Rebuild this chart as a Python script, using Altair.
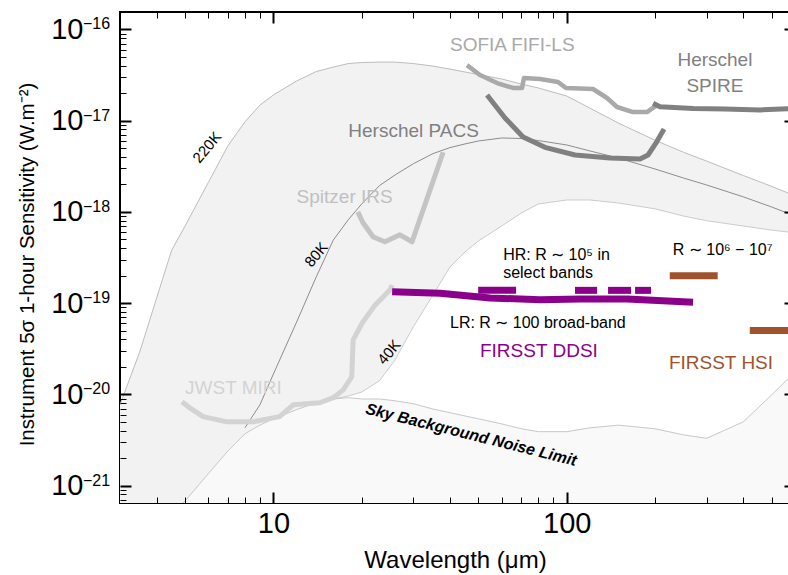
import altair as alt
import pandas as pd

# ---------------- data ----------------
# common wavelength grid (micron) for the background curves
lam_grid = [3, 3.5, 4, 4.5, 5, 6, 7, 8, 9, 10, 12, 14, 16, 18, 20, 23, 26, 30, 35, 40,
            45, 50, 60, 70, 80, 100, 120, 150, 200, 250, 300, 400, 500, 600]
t220 = [7.7e-21, 2.9e-20, 1.14e-19, 3.8e-19, 7.0e-19, 2.1e-18, 5.3e-18, 9.7e-18, 1.48e-17, 1.91e-17,
        2.72e-17, 3.45e-17, 3.86e-17, 4.22e-17, 4.33e-17, 4.38e-17, 4.38e-17, 4.22e-17, 3.96e-17, 3.67e-17,
        3.41e-17, 3.2e-17, 2.86e-17, 2.52e-17, 2.28e-17, 1.86e-17, 1.37e-17, 9.4e-18, 6.1e-18, 4.5e-18,
        3.6e-18, 2.5e-18, 1.9e-18, 1.5e-18]
t80 = [1.0e-22, 1.8e-22, 2.95e-22, 4.7e-22, 6.8e-22, 1.35e-21, 2.4e-21, 4.3e-21, 7.7e-21, 1.67e-20,
       6.2e-20, 1.94e-19, 4.9e-19, 8.2e-19, 1.22e-18, 1.94e-18, 2.54e-18, 3.37e-18, 4.35e-18, 5.06e-18,
       5.55e-18, 5.98e-18, 6.45e-18, 6.37e-18, 6.05e-18, 5.41e-18, 4.65e-18, 3.89e-18, 2.95e-18, 2.35e-18,
       1.97e-18, 1.46e-18, 1.13e-18, 9.0e-19]
t40 = [1.0e-22, 1.8e-22, 2.95e-22, 4.7e-22, 6.8e-22, 1.35e-21, 2.4e-21, 3.7e-21, 4.6e-21, 5.4e-21,
       6.8e-21, 8.1e-21, 8.9e-21, 9.6e-21, 1.06e-20, 1.41e-20, 2.39e-20, 5.5e-20, 1.23e-19, 2.49e-19,
       3.64e-19, 4.8e-19, 7.0e-19, 9.7e-19, 1.22e-18, 1.35e-18, 1.35e-18, 1.25e-18, 1.08e-18, 9.0e-19,
       8.0e-19, 7.0e-19, 6.3e-19, 5.9e-19]
sky = [1.0e-22, 1.8e-22, 2.95e-22, 4.7e-22, 6.8e-22, 1.35e-21, 2.4e-21, 3.7e-21, 4.6e-21, 5.4e-21,
       6.8e-21, 8.1e-21, 8.9e-21, 9.2e-21, 8.9e-21, 8.9e-21, 8.5e-21, 7.9e-21, 6.9e-21, 6.3e-21,
       5.8e-21, 5.4e-21, 4.75e-21, 4.2e-21, 3.9e-21, 3.9e-21, 4.3e-21, 4.6e-21, 4.2e-21, 3.6e-21,
       3.3e-21, 5.0e-21, 9.9e-21, 1.76e-20]

miri_lam = [4.88, 5.19, 5.76, 6.95, 8.53, 10.5, 11.7, 14.4, 16.0, 17.3, 18.5, 18.7, 20.1, 22.2, 25.0, 25.4]
miri_f = [8.3e-21, 7.1e-21, 5.7e-21, 5.0e-21, 5.0e-21, 5.7e-21, 7.7e-21, 8.1e-21, 9.2e-21, 1.12e-20,
          1.56e-20, 3.95e-20, 6.1e-20, 9.5e-20, 1.40e-19, 1.58e-19]
irs_lam = [19.4, 20.2, 21.9, 24.0, 27.0, 29.7, 37.9]
irs_f = [1.0e-18, 7.6e-19, 5.3e-19, 4.7e-19, 5.6e-19, 4.7e-19, 4.5e-18]
pacs_lam = [53.5, 61.6, 71.0, 84.3, 106.7, 140.5, 177.8, 189.3, 201.6, 214.6]
pacs_f = [1.91e-17, 1.07e-17, 6.6e-18, 5.1e-18, 4.2e-18, 3.9e-18, 3.8e-18, 4.2e-18, 5.7e-18, 8.1e-18]
fifi_lam = [45.7, 50.6, 57.9, 65.6, 70.4, 71.5, 81.1, 93.4, 99.4, 122.9, 137.2, 148.4, 168.2, 187.7, 203.0]
fifi_f = [4.06e-17, 3.16e-17, 2.58e-17, 2.28e-17, 2.28e-17, 2.93e-17, 2.86e-17, 2.65e-17, 2.28e-17,
          2.22e-17, 1.77e-17, 1.41e-17, 1.24e-17, 1.24e-17, 1.48e-17]
spire_lam = [197, 208, 270, 346, 456, 600]
spire_f = [1.55e-17, 1.42e-17, 1.36e-17, 1.34e-17, 1.31e-17, 1.36e-17]

ddsi_lr_lam = [25.4, 37.0, 54.8, 81.1, 111, 160.6, 269.5]
ddsi_lr_f = [1.33e-19, 1.28e-19, 1.14e-19, 1.09e-19, 1.11e-19, 1.11e-19, 1.02e-19]
ddsi_hr_start = [49.9, 106.7, 138.3, 171.0]
ddsi_hr_end = [67.2, 126.9, 165.7, 193.8]
ddsi_hr_f = [1.38e-19, 1.38e-19, 1.38e-19, 1.38e-19]
hsi_start = [224.5, 420.7]
hsi_end = [327, 600]
hsi_f = [2.0e-19, 5.0e-20]

x_major = [10, 100]
x_minor = [4, 5, 6, 7, 8, 9, 20, 30, 40, 50, 60, 70, 80, 90, 200, 300, 400, 500]
y_major = [1e-16, 1e-17, 1e-18, 1e-19, 1e-20, 1e-21]
y_exponents = ["−16", "−17", "−18", "−19", "−20", "−21"]
y_minor = [k * 10.0 ** e for e in range(-22, -16) for k in range(2, 10)
           if 6.45e-22 < k * 10.0 ** e < 1.55e-16]

# ---------------- chart ----------------
FONT = "Liberation Sans"
W, H = 675, 491
xs = alt.Scale(type="log", domain=[3, 600], nice=False)
ys = alt.Scale(type="log", domain=[6.45e-22, 1.55e-16], nice=False)

bg = pd.DataFrame({"lam": lam_grid, "t220": t220, "t80": t80, "t40": t40, "sky": sky})


def X(f="lam"):
    return alt.X(f"{f}:Q", scale=xs, axis=None)


def Y(f):
    return alt.Y(f"{f}:Q", scale=ys, axis=None)


layers = []
# fills
layers.append(alt.Chart(bg).mark_area(color="#f2f2f2", clip=True).encode(x=X(), y=Y("t220"), y2="t80:Q"))
layers.append(alt.Chart(bg).mark_area(color="#f2f2f2", clip=True).encode(x=X(), y=Y("t80"), y2="t40:Q"))
layers.append(alt.Chart(bg).mark_area(color="#f9f9f9", clip=True).encode(
    x=X(), y=Y("sky"), y2=alt.Y2(datum=1e-23)))
# thin curves
layers.append(alt.Chart(bg).mark_line(color="#bdbdbd", strokeWidth=1, clip=True).encode(x=X(), y=Y("t220")))
layers.append(alt.Chart(bg).transform_filter("datum.lam >= 8").mark_line(
    color="#8c8c8c", strokeWidth=1, clip=True).encode(x=X(), y=Y("t80")))
layers.append(alt.Chart(bg).transform_filter("datum.lam >= 16").mark_line(
    color="#cccccc", strokeWidth=1, clip=True).encode(x=X(), y=Y("t40")))
layers.append(alt.Chart(bg).mark_line(color="#c8c8c8", strokeWidth=1, clip=True).encode(x=X(), y=Y("sky")))


def curve(lam, f, color, width=5):
    d = pd.DataFrame({"lam": lam, "f": f, "i": list(range(len(lam)))})
    return alt.Chart(d).mark_line(color=color, strokeWidth=width, clip=True,
                                  strokeCap="butt", strokeJoin="round").encode(
        x=X(), y=Y("f"), order="i:Q")


layers.append(curve(miri_lam, miri_f, "#d3d3d3"))
layers.append(curve(irs_lam, irs_f, "#c4c4c4"))
layers.append(curve(fifi_lam, fifi_f, "#a9a9a9", 4.5))
layers.append(curve(spire_lam, spire_f, "#808080"))
layers.append(curve(pacs_lam, pacs_f, "#808080"))
layers.append(curve(ddsi_lr_lam, ddsi_lr_f, "#8b008b", 7))


def segs(start, end, f, color):
    d = pd.DataFrame({"a": start, "b": end, "f": f})
    return alt.Chart(d).mark_rule(color=color, strokeWidth=7, clip=True).encode(
        x=X("a"), x2="b:Q", y=Y("f"))


layers.append(segs(ddsi_hr_start, ddsi_hr_end, ddsi_hr_f, "#8b008b"))
layers.append(segs(hsi_start, hsi_end, hsi_f, "#a0522d"))


def note(text, lam, f, **kw):
    d = pd.DataFrame({"lam": [lam], "f": [f], "t": [text]})
    opts = dict(font=FONT, fontSize=19, align="left", baseline="middle", color="black")
    opts.update(kw)
    return alt.Chart(d).mark_text(**opts).encode(x=X(), y=Y("f"), text="t:N")


layers += [
    note("SOFIA FIFI-LS", 40.0, 6.7e-17, color="#a9a9a9"),
    note("Herschel", 320, 4.6e-17, color="#808080", align="center"),
    note("SPIRE", 320, 2.4e-17, color="#808080", align="center"),
    note("Herschel PACS", 18.0, 7.7e-18, color="#808080"),
    note("Spitzer IRS", 12.0, 1.46e-18, color="#c0c0c0"),
    note("JWST MIRI", 5.0, 1.18e-20, color="#d3d3d3"),
    note("FIRSST DDSI", 50.6, 3.0e-20, color="#8b008b"),
    note("FIRSST HSI", 223, 2.2e-20, color="#a0522d"),
    note("220K", 5.94, 5.1e-18, fontSize=15, align="center", angle=310),
    note("80K", 14.0, 3.4e-19, fontSize=15, align="center", angle=310),
    note("40K", 24.8, 2.9e-20, fontSize=15, align="center", angle=310),
    note("Sky Background Noise Limit", 47.2, 3.6e-21, fontSize=16, align="center", angle=14,
         fontWeight="bold", fontStyle="italic"),
    note("HR: R ∼ 10⁵ in", 60.7, 3.37e-19, fontSize=16),
    note("select bands", 60.7, 2.14e-19, fontSize=16),
    note("R ∼ 10⁶ − 10⁷", 230, 3.83e-19, fontSize=16),
    note("LR: R ∼  100 broad-band", 40.0, 6.07e-20, fontSize=16),
]

# exponents of the y tick labels (drawn as superscripts next to the axis "10")
exp_df = pd.DataFrame({"f": y_major, "t": y_exponents})
layers.append(alt.Chart(exp_df).mark_text(font=FONT, fontSize=16, align="left", baseline="middle",
                                          dy=-5, color="black").encode(
    x=alt.value(-37), y=Y("f"), text="t:N"))

# axes (ticks pointing inward on all four sides)
carrier = pd.DataFrame({"lam": [10.0], "f": [1e-19]})
common = dict(domain=False, grid=False, tickColor="black", zindex=2)


def axis_layer(xaxis, yaxis):
    return alt.Chart(carrier).mark_point(opacity=0).encode(
        x=alt.X("lam:Q", scale=xs, axis=xaxis), y=alt.Y("f:Q", scale=ys, axis=yaxis))


layers.append(axis_layer(
    alt.Axis(orient="bottom", values=x_major, tickSize=11, tickWidth=2, offset=-11, format="d",
             labelFont=FONT, labelFontSize=29, labelColor="black", labelPadding=6,
             title="Wavelength (μm)", titleFont=FONT, titleFontSize=24, titleFontWeight="normal",
             titleColor="black", titleX=335, titleY=68, titleAlign="center", titleBaseline="middle",
             **common),
    alt.Axis(orient="left", values=y_major, tickSize=11, tickWidth=2, offset=-11, labelExpr="'10'",
             labelFont=FONT, labelFontSize=29, labelColor="black", labelPadding=37,
             title="Instrument 5σ 1-hour Sensitivity (W.m⁻²)", titleFont=FONT, titleFontSize=20.5,
             titleFontWeight="normal", titleColor="black", titleAngle=270, titleX=-104, titleY=252,
             titleAlign="center", titleBaseline="middle", **common)))
layers.append(axis_layer(
    alt.Axis(orient="bottom", values=x_minor, tickSize=6, tickWidth=1, offset=-6, labels=False,
             title=None, **common),
    alt.Axis(orient="left", values=y_minor, tickSize=6, tickWidth=1, offset=-6, labels=False,
             title=None, **common)))
layers.append(axis_layer(
    alt.Axis(orient="top", values=x_major, tickSize=11, tickWidth=2, offset=-11, labels=False,
             title=None, **common),
    alt.Axis(orient="right", values=y_major, tickSize=11, tickWidth=2, offset=-11, labels=False,
             title=None, **common)))
layers.append(axis_layer(
    alt.Axis(orient="top", values=x_minor, tickSize=6, tickWidth=1, offset=-6, labels=False,
             title=None, **common),
    alt.Axis(orient="right", values=y_minor, tickSize=6, tickWidth=1, offset=-6, labels=False,
             title=None, **common)))

chart = alt.layer(*layers).resolve_axis(x="independent", y="independent").properties(
    width=W, height=H,
    autosize=alt.AutoSizeParams(type="none"),
    padding={"left": 120, "top": 12, "right": -7, "bottom": 72},
    background="white",
).configure_view(stroke="black", strokeWidth=2)

chart.save("out.html", embed_options={"renderer": "svg", "actions": False})
